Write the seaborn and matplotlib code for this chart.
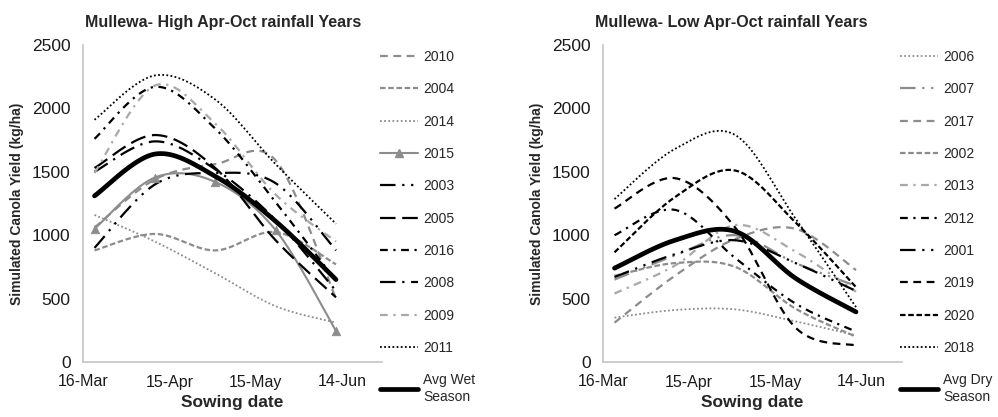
import numpy as np
import matplotlib
matplotlib.use("Agg")
import matplotlib.pyplot as plt
import seaborn as sns
from matplotlib.lines import Line2D

# ---------------- data ----------------
# sowing dates as day-of-year: 20-Mar, 10-Apr, 1-May, 22-May, 12-Jun
sowing_days = [79, 100, 121, 142, 163]
tick_days = [75, 105, 135, 165]
tick_labels = ["16-Mar", "15-Apr", "15-May", "14-Jun"]

wet_years = ["2010", "2004", "2014", "2015", "2003", "2005", "2016", "2008", "2009", "2011"]
y2010 = [1060, 1440, 1560, 1590, 500]
y2004 = [880, 1010, 880, 1025, 770]
y2014 = [1160, 950, 700, 440, 310]
y2015 = [1050, 1455, 1420, 1040, 245]
y2003 = [900, 1400, 1490, 1410, 880]
y2005 = [1530, 1790, 1530, 960, 510]
y2016 = [1760, 2170, 1840, 1260, 640]
y2008 = [1500, 1740, 1520, 1120, 560]
y2009 = [1490, 2180, 1880, 1320, 950]
y2011 = [1910, 2260, 2070, 1560, 1090]
avg_wet = [1310, 1640, 1465, 1110, 650]

dry_years = ["2006", "2007", "2017", "2002", "2013", "2012", "2001", "2019", "2020", "2018"]
y2006 = [350, 410, 415, 320, 210]
y2007 = [650, 840, 1000, 780, 600]
y2017 = [310, 680, 970, 1050, 725]
y2002 = [680, 780, 750, 420, 200]
y2013 = [540, 760, 1080, 870, 555]
y2012 = [1000, 1200, 820, 460, 240]
y2001 = [670, 850, 960, 780, 560]
y2019 = [1210, 1450, 1060, 270, 130]
y2020 = [865, 1300, 1510, 1100, 590]
y2018 = [1285, 1680, 1790, 1130, 433]
avg_dry = [740, 960, 1030, 660, 395]

wet_values = [y2010, y2004, y2014, y2015, y2003, y2005, y2016, y2008, y2009, y2011]
dry_values = [y2006, y2007, y2017, y2002, y2013, y2012, y2001, y2019, y2020, y2018]

# ---------------- styles ----------------
BLACK = "#000000"
GRAY = "#8c8c8c"
LGRAY = "#a8a8a8"
DASH = (3.5, 2.5)
SYSDASH = (2.5, 1.2)
DOT = (1.0, 1.3)
LDASHDOTDOT = (7, 3, 1, 3, 1, 3)
LDASH = (7, 3)
DASHDOT = (3.5, 2.5, 1, 2.5)
LDASHDOT = (7, 3, 1, 3)
SOLID = None

wet_styles = {
    "2010": (GRAY, DASH, 1.6, None),
    "2004": (GRAY, SYSDASH, 1.6, None),
    "2014": (GRAY, DOT, 1.3, None),
    "2015": (GRAY, SOLID, 1.5, "^"),
    "2003": (BLACK, LDASHDOTDOT, 1.6, None),
    "2005": (BLACK, LDASH, 1.6, None),
    "2016": (BLACK, DASHDOT, 1.6, None),
    "2008": (BLACK, LDASHDOT, 1.6, None),
    "2009": (LGRAY, DASHDOT, 1.6, None),
    "2011": (BLACK, DOT, 1.3, None),
}
dry_styles = {
    "2006": (GRAY, DOT, 1.3, None),
    "2007": (GRAY, LDASHDOTDOT, 1.6, None),
    "2017": (GRAY, DASH, 1.6, None),
    "2002": (GRAY, SYSDASH, 1.6, None),
    "2013": (LGRAY, DASHDOT, 1.6, None),
    "2012": (BLACK, DASHDOT, 1.6, None),
    "2001": (BLACK, LDASHDOTDOT, 1.6, None),
    "2019": (BLACK, DASH, 1.6, None),
    "2020": (BLACK, SYSDASH, 1.6, None),
    "2018": (BLACK, DOT, 1.3, None),
}

sns.set_style("white")
plt.rcParams["font.family"] = ["Liberation Sans", "DejaVu Sans"]

W, H = 998, 417
fig = plt.figure(figsize=(W / 100, H / 100), dpi=100)


def smooth(x, y, n=40):
    """Excel-style smoothed line rendering (Bezier through the data points)."""
    pts = np.column_stack([x, y]).astype(float)
    P = np.vstack([pts[0], pts, pts[-1]])
    out = []
    nseg = len(pts) - 1
    for i in range(1, len(P) - 2):
        p0, p1, p2, p3 = P[i - 1], P[i], P[i + 1], P[i + 2]
        c1 = p1 + (p2 - p0) / 6.0
        c2 = p2 - (p3 - p1) / 6.0
        t = np.linspace(0, 1, n, endpoint=(i == nseg))[:, None]
        seg = (1 - t) ** 3 * p1 + 3 * (1 - t) ** 2 * t * c1 + 3 * (1 - t) * t ** 2 * c2 + t ** 3 * p2
        out.append(seg)
    c = np.vstack(out)
    return c[:, 0], c[:, 1]


def draw_series(ax, y, color, dashes, lw, marker, z=2):
    xs, ys = smooth(sowing_days, y)
    sns.lineplot(x=xs, y=ys, ax=ax, sort=False, estimator=None, color=color,
                 linewidth=lw, zorder=z)
    line = ax.lines[-1]
    if dashes is not None:
        line.set_linestyle((0, dashes))
    if marker:
        sns.scatterplot(x=sowing_days, y=y, ax=ax, marker=marker, color=color,
                        s=38, edgecolor=color, linewidth=0.5, zorder=z + 1)
    h = Line2D([], [], color=color, linewidth=lw,
               linestyle=(0, dashes) if dashes is not None else "-",
               marker=marker if marker else None, markersize=6,
               markerfacecolor=color, markeredgecolor=color)
    return h


def make_panel(left_px, title, title_x_px, years, values, styles, avg, avg_label):
    ax = fig.add_axes([left_px / W, 1 - 362 / H, 299 / W, 317 / H])
    handles = []
    for yr, vals in zip(years, values):
        color, dashes, lw, marker = styles[yr]
        handles.append(draw_series(ax, vals, color, dashes, lw, marker))
    handles.append(draw_series(ax, avg, BLACK, None, 3.4, None, z=4))
    labels = list(years) + [avg_label]

    ax.set_xlim(75, 179)
    ax.set_ylim(0, 2500)
    ax.set_yticks([0, 500, 1000, 1500, 2000, 2500])
    ax.set_xticks(tick_days)
    ax.set_xticklabels(tick_labels)
    for s in ["top", "right"]:
        ax.spines[s].set_visible(False)
    for s in ["left", "bottom"]:
        ax.spines[s].set_color("#c4c4c4")
        ax.spines[s].set_linewidth(1.2)
    ax.tick_params(axis="both", direction="out", length=5, width=1,
                   color="#c4c4c4", labelcolor="#1a1a1a")
    ax.tick_params(axis="y", labelsize=12.5, pad=4)
    ax.tick_params(axis="x", labelsize=11.5, pad=4)
    ax.set_ylabel("Simulated Canola Yield (kg/ha)", fontsize=10, fontweight="bold")
    ax.yaxis.set_label_coords(-65.5 / 299, 0.5)
    ax.set_xlabel("Sowing date", fontsize=12.5, fontweight="bold")
    ax.xaxis.set_label_coords(0.5, -(402 - 362) / 317)
    ax.xaxis.label.set_va("center")
    ax.yaxis.label.set_va("center")

    fig.text(title_x_px / W, 1 - 22 / H, title, ha="left", va="center",
             fontsize=11.5, fontweight="bold")

    fig.legend(handles, labels, loc="upper left",
               bbox_to_anchor=((left_px + 297) / W, 1 - 50 / H),
               frameon=False, fontsize=10, handlelength=2.75, handletextpad=0.35,
               labelspacing=1.32, borderpad=0, borderaxespad=0)
    return ax


make_panel(83, "Mullewa- High Apr-Oct rainfall Years", 85, wet_years, wet_values,
           wet_styles, avg_wet, "Avg Wet\nSeason")
make_panel(603, "Mullewa- Low Apr-Oct rainfall Years", 595, dry_years, dry_values,
           dry_styles, avg_dry, "Avg Dry\nSeason")

fig.savefig("out.png", dpi=100)
